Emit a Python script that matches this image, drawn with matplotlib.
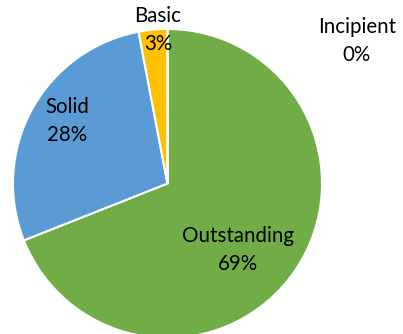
import matplotlib.pyplot as plt

categories = ["Outstanding", "Solid", "Basic", "Incipient"]
shares = [69, 28, 3, 0]
colors = ["#70AD47", "#5B9BD5", "#FFC000", "#A5A5A5"]

# label anchor points (data units, pie radius = 1)
label_pos = [(0.456, -0.43), (-0.65, 0.404), (-0.061, 0.994), (1.226, 0.922)]

fig = plt.figure(figsize=(4.03, 3.34), dpi=100)
ax = fig.add_axes([0, 0, 1, 1])

ax.pie(shares, colors=colors, startangle=90, counterclock=False,
       radius=1, wedgeprops=dict(edgecolor="white", linewidth=1.5))

for name, val, (x, y) in zip(categories, shares, label_pos):
    ax.text(x, y, f"{name}\n{val}%", ha="center", va="center",
            fontsize=14.8, family="Lato", linespacing=1.5, color="black")

ax.set_xlim(-167.5 / 154.5, (403 - 167.5) / 154.5)
ax.set_ylim((183.5 - 334) / 154.5, 183.5 / 154.5)
ax.set_aspect("auto")
ax.axis("off")

fig.savefig("out.png", dpi=100)
